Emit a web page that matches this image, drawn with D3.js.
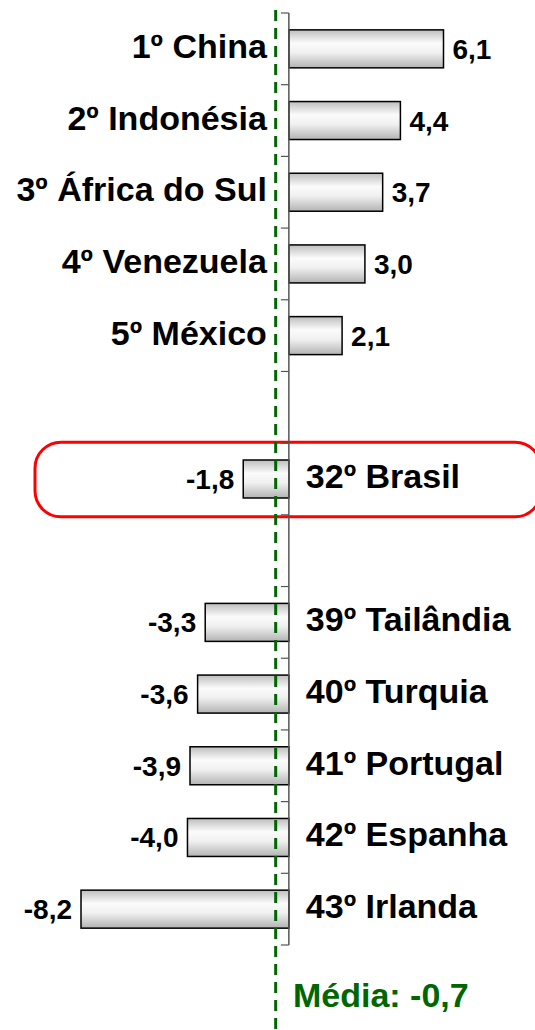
<!DOCTYPE html>
<meta charset="utf-8">
<script src="https://d3js.org/d3.v7.min.js"></script>
<style>
  body { margin: 0; background: #fff; }
  text { font-family: "Liberation Sans", Arial, sans-serif; font-weight: bold; }
</style>
<div id="my_dataviz"></div>
<script>

// data (blank slots are the gaps in the ranking)
var slots = ["s1","s2","s3","s4","s5","gap1","s32","gap2","s39","s40","s41","s42","s43"];
var labels = ["1º China","2º Indonésia","3º África do Sul","4º Venezuela","5º México","","32º Brasil","","39º Tailândia","40º Turquia","41º Portugal","42º Espanha","43º Irlanda"];
var values = [6.1, 4.4, 3.7, 3.0, 2.1, null, -1.8, null, -3.3, -3.6, -3.9, -4.0, -8.2];
var valueLabels = ["6,1","4,4","3,7","3,0","2,1","","-1,8","","-3,3","-3,6","-3,9","-4,0","-8,2"];
var meanLabel = "Média: -0,7";
var meanLinePos = -0.52;   // where the dashed line sits in the picture
var highlight = "s32";

var width = 535, height = 1030;

var svg = d3.select("#my_dataviz")
  .append("svg")
    .attr("width", width)
    .attr("height", height);

var defs = svg.append("defs");
var grad = defs.append("linearGradient")
    .attr("id", "barGrad")
    .attr("x1", 0).attr("y1", 0).attr("x2", 0).attr("y2", 1);
grad.append("stop").attr("offset", "0%").attr("stop-color", "#bdbdbd");
grad.append("stop").attr("offset", "35%").attr("stop-color", "#fbfbfb");
grad.append("stop").attr("offset", "60%").attr("stop-color", "#f0f0f0");
grad.append("stop").attr("offset", "100%").attr("stop-color", "#b3b3b3");

// scales
var x = d3.scaleLinear()
  .domain([-8.2, 6.1])
  .range([81, 443.5]);

var y = d3.scaleBand()
  .domain(slots)
  .range([13, 945])
  .paddingInner(0.47)
  .paddingOuter(0.235);

var slot = (945 - 13) / slots.length;
var data = slots.map(function(k, i) {
  return {key: k, label: labels[i], value: values[i], vlabel: valueLabels[i]};
});

// highlight box round Brasil (runs off the right edge)
var hy = 13 + slots.indexOf(highlight) * slot;
svg.append("rect")
  .attr("x", 35)
  .attr("y", hy - 1)
  .attr("width", 506)
  .attr("height", slot + 3)
  .attr("rx", 26)
  .attr("fill", "none")
  .attr("stroke", "#ff0000")
  .attr("stroke-width", 3);

// bars
svg.append("g")
  .selectAll("rect")
  .data(data.filter(function(d) { return d.value !== null; }))
  .enter()
  .append("rect")
    .attr("x", function(d) { return x(Math.min(0, d.value)); })
    .attr("y", function(d) { return y(d.key); })
    .attr("width", function(d) { return Math.abs(x(d.value) - x(0)); })
    .attr("height", y.bandwidth())
    .attr("fill", "url(#barGrad)")
    .attr("stroke", "#000")
    .attr("stroke-width", 1.5);

// category axis at zero, ticks between slots
var axisG = svg.append("g")
  .attr("transform", "translate(" + x(0) + ",0)");
axisG.append("line")
  .attr("y1", 13).attr("y2", 945)
  .attr("stroke", "#555").attr("stroke-width", 1.5);
axisG.selectAll(".tick")
  .data(d3.range(slots.length + 1))
  .enter()
  .append("line")
    .attr("x1", -8).attr("x2", 0)
    .attr("y1", function(i) { return 13 + i * slot; })
    .attr("y2", function(i) { return 13 + i * slot; })
    .attr("stroke", "#555").attr("stroke-width", 1.2);

// mean line
svg.append("line")
  .attr("x1", x(meanLinePos)).attr("x2", x(meanLinePos))
  .attr("y1", 10).attr("y2", height)
  .attr("stroke", "#006600")
  .attr("stroke-width", 3)
  .attr("stroke-dasharray", "11,7");

svg.append("text")
  .attr("x", 293)
  .attr("y", 1007)
  .attr("fill", "#006600")
  .attr("font-size", "34px")
  .text(meanLabel);

// category labels: left of axis for positives, right for negatives
svg.append("g")
  .selectAll("text")
  .data(data.filter(function(d) { return d.label !== ""; }))
  .enter()
  .append("text")
    .attr("x", function(d) { return d.value >= 0 ? x(0) - 22 : x(0) + 17; })
    .attr("y", function(d) { return y(d.key) + y.bandwidth() / 2 + 9; })
    .attr("text-anchor", function(d) { return d.value >= 0 ? "end" : "start"; })
    .attr("font-size", "34px")
    .attr("fill", "#000")
    .text(function(d) { return d.label; });

// value labels at bar ends
svg.append("g")
  .selectAll("text")
  .data(data.filter(function(d) { return d.value !== null; }))
  .enter()
  .append("text")
    .attr("x", function(d) { return d.value >= 0 ? x(d.value) + 9 : x(d.value) - 9; })
    .attr("y", function(d) { return y(d.key) + y.bandwidth() / 2 + 10; })
    .attr("text-anchor", function(d) { return d.value >= 0 ? "start" : "end"; })
    .attr("font-size", "28px")
    .attr("fill", "#000")
    .text(function(d) { return d.vlabel; });

</script>
